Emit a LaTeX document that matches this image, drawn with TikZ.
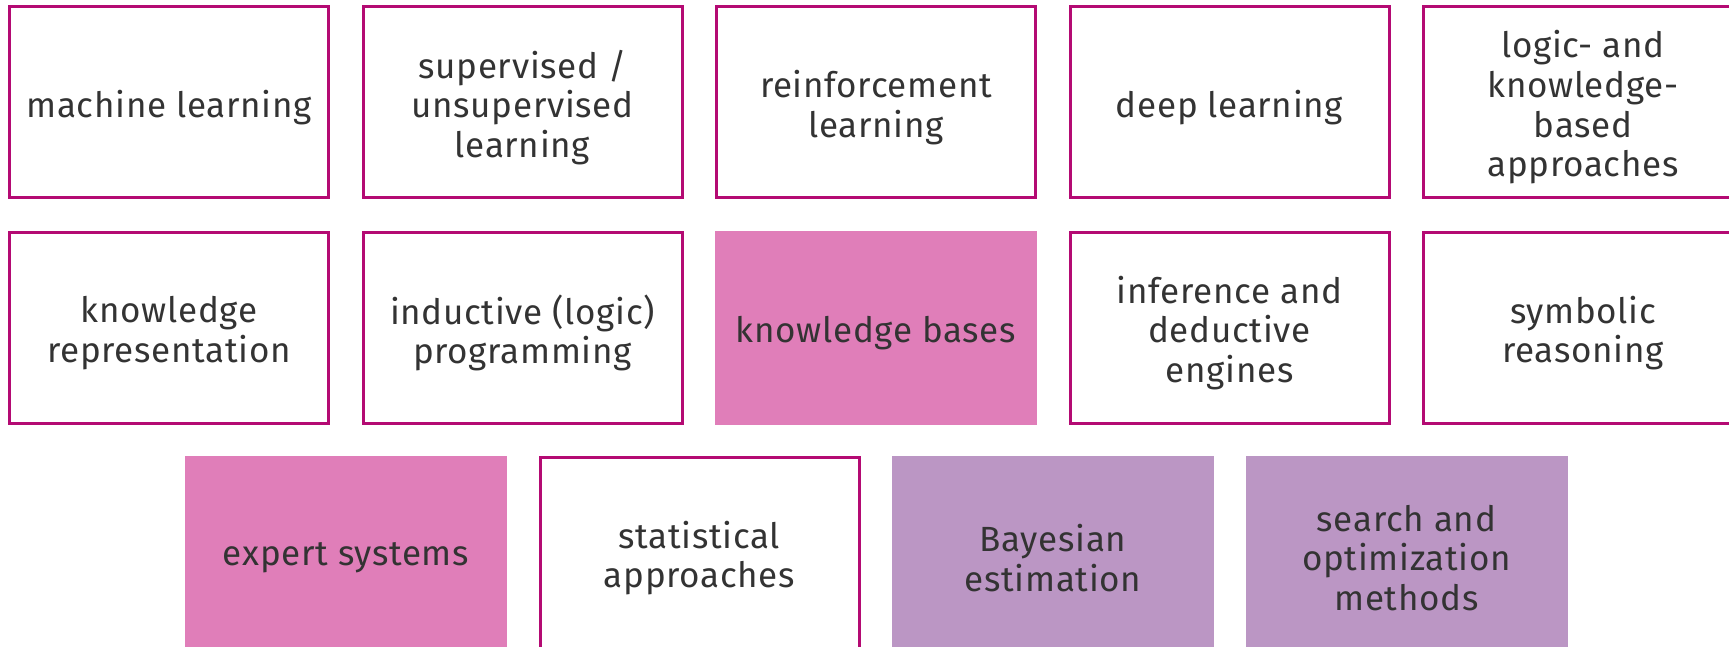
\documentclass[tikz,border=0pt]{standalone}
\usepackage{fontspec}
\setmainfont{Fira Sans}[LetterSpace=2]
\definecolor{edge}{HTML}{B40A73}
\definecolor{pinkfill}{HTML}{E07EB9}
\definecolor{purplefill}{HTML}{BB96C4}
\definecolor{txt}{HTML}{333333}
\begin{document}
\begin{tikzpicture}[x=1pt,y=1pt,
  base/.style={align=center,text=txt,inner sep=0pt,
    font=\fontsize{35}{39.7}\selectfont},
  lbl/.style={label={[base,yshift=-5pt]center:{#1}}},
  outlined/.style={draw=edge,line width=3pt,minimum width=319pt,minimum height=191pt,lbl={#1}},
  pinkbox/.style={fill=pinkfill,minimum width=322pt,minimum height=194pt,lbl={#1}},
  purplebox/.style={fill=purplefill,minimum width=322pt,minimum height=194pt,lbl={#1}}]
\useasboundingbox (0,0) rectangle (1729,646);
\begin{scope}
\clip (0,0) rectangle (1729,646);
% row 1
\node[outlined={machine learning}] (ml) at (169,543.5) {};
\node[outlined={supervised /\\unsupervised\\learning}] (sul) at (522.5,543.5) {};
\node[outlined={reinforcement\\learning}] (rl) at (876,543.5) {};
\node[outlined={deep learning}] (dl) at (1229.5,543.5) {};
\node[outlined={logic- and\\knowledge-\\based\\approaches}] (lkb) at (1583,543.5) {};
% row 2
\node[outlined={knowledge\\representation}] (kr) at (169,318) {};
\node[outlined={inductive (logic)\\programming}] (ilp) at (522.5,318) {};
\node[pinkbox={knowledge bases}] (kb) at (876,318) {};
\node[outlined={inference and\\deductive\\engines}] (ide) at (1229.5,318) {};
\node[outlined={symbolic\\reasoning}] (sr) at (1583,318) {};
% row 3
\node[pinkbox={expert systems}] (es) at (346,93) {};
\node[outlined={statistical\\approaches}] (sa) at (699.5,93) {};
\node[purplebox={Bayesian\\estimation}] (be) at (1053,93) {};
\node[purplebox={search and\\optimization\\methods}] (som) at (1406.5,93) {};
\end{scope}
\end{tikzpicture}
\end{document}
